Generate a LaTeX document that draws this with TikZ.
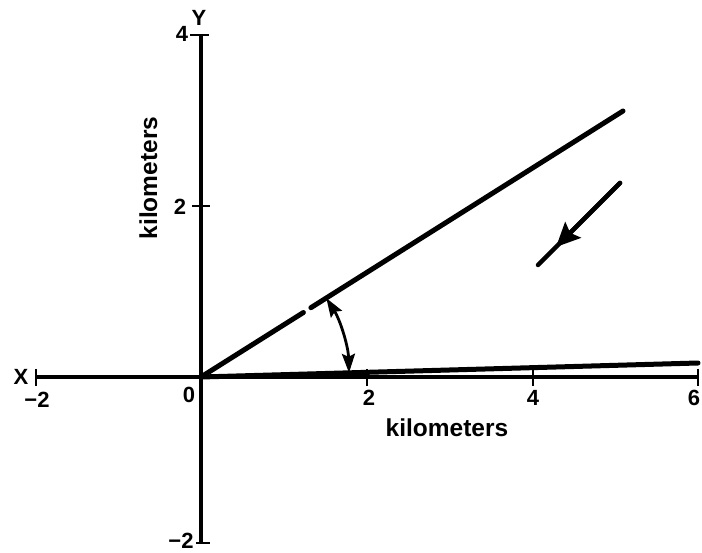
\documentclass[tikz,border=0pt]{standalone}
\usepackage{fontspec}
\setmainfont{Liberation Sans}
\usetikzlibrary{arrows.meta}
\begin{document}
\tikzset{
  axisline/.style={line width=3.2pt},
  tickline/.style={line width=2.8pt},
  ray/.style={line width=5pt, line cap=round},
  lbl/.style={font=\bfseries\fontsize{22}{26}\selectfont, inner sep=0pt},
  unitlbl/.style={font=\bfseries\fontsize{24.5}{28}\selectfont, inner sep=0pt},
  archead/.tip={Stealth[length=19pt,width=13pt,inset=3pt]},
  bighead/.tip={Stealth[length=24pt,width=22pt,inset=4pt]}
}
\begin{tikzpicture}[x=1pt,y=-1pt]
\useasboundingbox (0,0) rectangle (702,553);
% axes
\coordinate (O) at (201,377);
\coordinate (xl) at (36,377);
\coordinate (xr) at (698,377);
\coordinate (yt) at (201,35);
\coordinate (yb) at (201,543);
\draw[axisline] (xl) -- (xr);
\draw[axisline] (yt) -- (yb);
% ticks
\foreach \x in {36,367,533,698} \draw[tickline] (\x,369) -- (\x,386);
\draw[tickline] (190,35) -- (209,35);
\draw[tickline] (192,206) -- (210,206);
\draw[tickline] (196,543) -- (210,543);
% labels
\node[lbl] (X) at (21,377) {X};
\node[lbl] (xm2) at (37,400) {−2};
\node[lbl] (x0) at (189,395) {0};
\node[lbl] (x2) at (369,398) {2};
\node[lbl] (x4) at (533,398) {4};
\node[lbl] (x6) at (694,398) {6};
\node[lbl] (Y) at (199,18) {Y};
\node[lbl] (y4) at (182,34) {4};
\node[lbl] (y2) at (180,207) {2};
\node[lbl] (ym2) at (181,541) {−2};
\node[unitlbl, anchor=base] (kx) at (447,436) {kilometers};
\node[unitlbl, anchor=base, rotate=90] (ky) at (157,178) {kilometers};
% rays
\coordinate (U) at (623,111);
\coordinate (L) at (698,363);
\coordinate (g1) at (303.4,312.5);
\coordinate (g2) at (310.9,307.7);
\draw[ray] (O) -- (g1);
\draw[ray] (g2) -- (U);
\draw[ray] (O) -- (L);
% angle arc
\coordinate (A) at (326.3,298.1);
\draw[line width=2.8pt, archead-archead] (A) arc[start angle=-32.2, end angle=-1.6, radius=148];
% direction arrow
\coordinate (S) at (620,183);
\coordinate (E) at (538,265);
\coordinate (H) at (556,247);
\draw[ray, line width=4.5pt] (S) -- (E);
\draw[ray, line width=4.5pt, -bighead] (S) -- (H);
\end{tikzpicture}
\end{document}
